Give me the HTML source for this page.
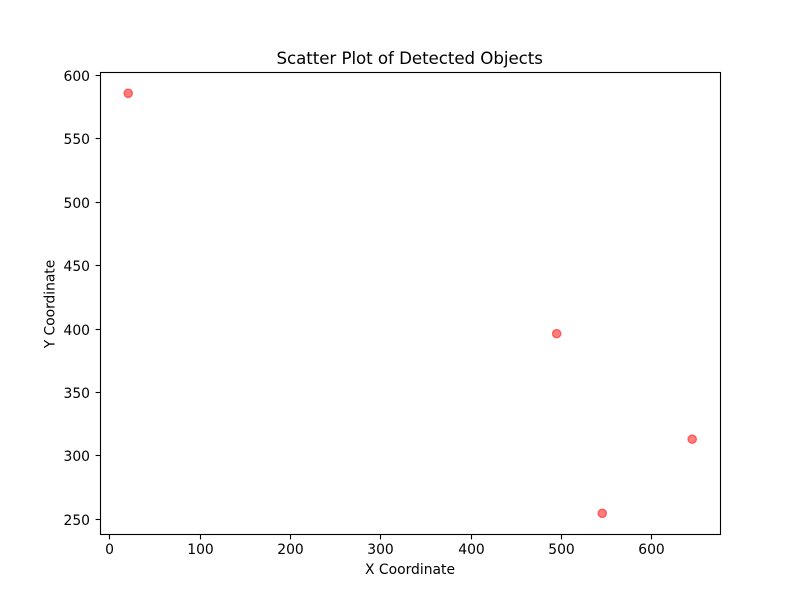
<!DOCTYPE html>
<html>
<head>
<meta charset="utf-8">
<title>Scatter Plot of Detected Objects</title>
<style>
html,body{margin:0;padding:0;background:#fff;}
svg{display:block;}
text{font-family:"DejaVu Sans",sans-serif;fill:#000;}
</style>
</head>
<body>
<svg id="chart" width="800" height="600" viewBox="0 0 800 600" xmlns="http://www.w3.org/2000/svg">
<rect x="0" y="0" width="800" height="600" fill="#fff"/>
<text x="409.7" y="64" font-size="16.67" text-anchor="middle" textLength="266.5">Scatter Plot of Detected Objects</text>
<text x="410" y="574" font-size="13.89" text-anchor="middle">X Coordinate</text>
<text transform="translate(54.5 304) rotate(-90)" font-size="13.89" text-anchor="middle" textLength="88.5">Y Coordinate</text>
<g id="ticks"></g>
<g id="points"></g>
<rect x="100.5" y="72.5" width="620" height="462" fill="none" stroke="#000" stroke-width="1.11"/>
</svg>
<script>
const xValues = [20.3, 494.9, 545.4, 645];
const yValues = [585.9, 396.4, 254.8, 313.2];
const xTickLabels = [0, 100, 200, 300, 400, 500, 600];
const yTickLabels = [250, 300, 350, 400, 450, 500, 550, 600];

const NS = 'http://www.w3.org/2000/svg';
const plot = { left: 100, right: 720, top: 72, bottom: 534 };
const xDomain = [-10.97, 675.8];
const yDomain = [238.5, 602.68];

function xScale(v) {
  return plot.left + (v - xDomain[0]) / (xDomain[1] - xDomain[0]) * (plot.right - plot.left);
}
function yScale(v) {
  return plot.bottom - (v - yDomain[0]) / (yDomain[1] - yDomain[0]) * (plot.bottom - plot.top);
}
function snap(p) {
  return Math.floor(p) + 0.5;
}
function make(tag, attrs, parent) {
  const el = document.createElementNS(NS, tag);
  for (const k in attrs) el.setAttribute(k, attrs[k]);
  parent.appendChild(el);
  return el;
}

const ticks = document.getElementById('ticks');
xTickLabels.forEach(function (t) {
  const x = snap(xScale(t));
  const line = make('line', { x1: x, x2: x, y1: plot.bottom + 0.5, y2: plot.bottom + 5.4, stroke: '#000', 'stroke-width': 1.11 }, ticks);
  
  
  const label = make('text', { x: x, y: 554, 'font-size': 13.89, 'text-anchor': 'middle' }, ticks);
  
  
  label.textContent = t;
});
yTickLabels.forEach(function (t) {
  const y = snap(yScale(t));
  const line = make('line', { x1: plot.left - 4.4, x2: plot.left + 0.5, y1: y, y2: y, stroke: '#000', 'stroke-width': 1.11 }, ticks);
  
  
  const label = make('text', { x: 90, y: y + 5.5, 'font-size': 13.89, 'text-anchor': 'end' }, ticks);
  
  
  label.textContent = t;
});

const points = document.getElementById('points');
xValues.forEach(function (v, i) {
  const c = make('circle', { cx: xScale(v), cy: yScale(yValues[i]), r: 4.17, fill: '#f00', 'fill-opacity': 0.5, stroke: '#f00', 'stroke-opacity': 0.5, 'stroke-width': 1.39 }, points);
  
  
});
</script>
</body>
</html>
